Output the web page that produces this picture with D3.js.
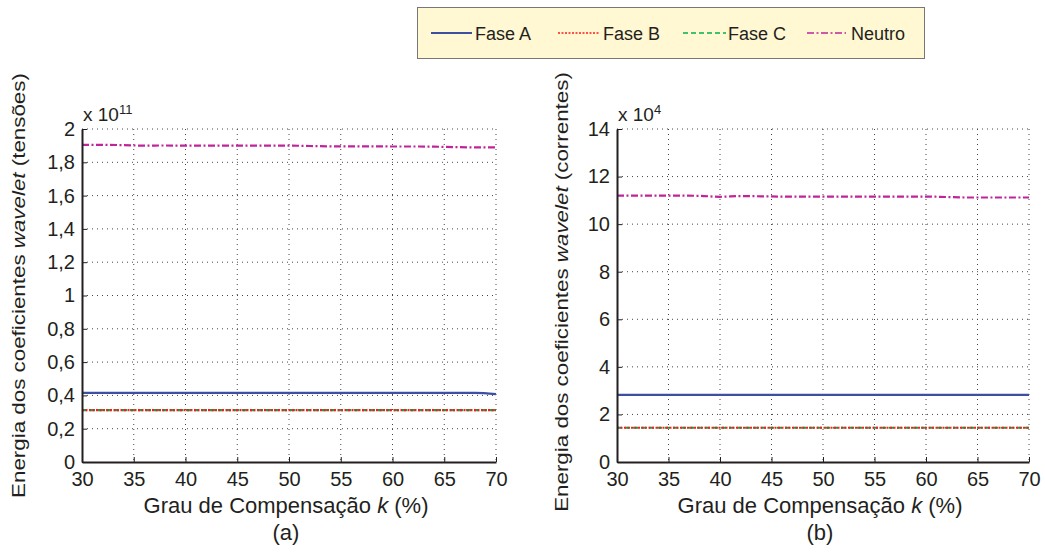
<!DOCTYPE html>
<html><head><meta charset="utf-8">
<script src="https://cdn.jsdelivr.net/npm/d3@7"></script>
<style>body{margin:0;background:#fff}svg{display:block}text{font-family:"Liberation Sans",Arial,sans-serif;fill:#231f20}</style>
</head><body>
<script>
const kValues = [30,32,34,36,38,40,42,44,46,48,50,52,54,56,58,60,62,64,66,68,70];
// (a) tensões, x 1e11
const tensNeutro = [1.905,1.905,1.903,1.900,1.901,1.900,1.900,1.900,1.900,1.900,1.900,1.898,1.896,1.896,1.896,1.895,1.895,1.894,1.891,1.890,1.890];
const tensFaseA = [0.415,0.415,0.415,0.415,0.415,0.415,0.415,0.415,0.415,0.415,0.415,0.415,0.415,0.415,0.415,0.415,0.415,0.415,0.415,0.415,0.408];
const tensFaseB = [0.312,0.312,0.312,0.312,0.312,0.312,0.312,0.312,0.312,0.312,0.312,0.312,0.312,0.312,0.312,0.312,0.312,0.312,0.312,0.312,0.312];
const tensFaseC = [0.312,0.312,0.312,0.312,0.312,0.312,0.312,0.312,0.312,0.312,0.312,0.312,0.312,0.312,0.312,0.312,0.312,0.312,0.312,0.312,0.312];
// (b) correntes, x 1e4
const corrNeutro = [11.20,11.20,11.20,11.20,11.19,11.15,11.18,11.17,11.16,11.16,11.16,11.16,11.16,11.16,11.16,11.16,11.14,11.12,11.12,11.12,11.12];
const corrFaseA = [2.82,2.82,2.82,2.82,2.82,2.82,2.82,2.82,2.82,2.82,2.82,2.82,2.82,2.82,2.82,2.82,2.82,2.82,2.82,2.82,2.82];
const corrFaseB = [1.44,1.44,1.44,1.44,1.44,1.44,1.44,1.44,1.44,1.44,1.44,1.44,1.44,1.44,1.44,1.44,1.44,1.44,1.44,1.44,1.44];
const corrFaseC = [1.44,1.44,1.44,1.44,1.44,1.44,1.44,1.44,1.44,1.44,1.44,1.44,1.44,1.44,1.44,1.44,1.44,1.44,1.44,1.44,1.44];

const xTicks = [30,35,40,45,50,55,60,65,70];
const yTicksA = [0,0.2,0.4,0.6,0.8,1,1.2,1.4,1.6,1.8,2];
const yTicksB = [0,2,4,6,8,10,12,14];
const seriesNames = ["Fase A","Fase B","Fase C","Neutro"];
const seriesColors = ["#3c4fa0","#ff1a1a","#00b04f","#c0249c"];
const seriesDash = [null,"2,1.5","5,3","7,2.5,2,2.5"];

const W=1045,H=554;
const svg=d3.select("body").append("svg").attr("width",W).attr("height",H);

function panel(opt){
  const x=d3.scaleLinear().domain([30,70]).range([opt.x0,opt.x1]);
  const y=d3.scaleLinear().domain(opt.ydom).range([opt.y1,opt.y0]);
  const g=svg.append("g");
  g.selectAll(".gx").data(xTicks.slice(1)).join("line")
    .attr("x1",d=>x(d)).attr("x2",d=>x(d)).attr("y1",opt.y0).attr("y2",opt.y1)
    .attr("stroke","#444").attr("stroke-width",1).attr("stroke-dasharray","1,4");
  g.selectAll(".gy").data(opt.yticks.slice(1)).join("line")
    .attr("x1",opt.x0).attr("x2",opt.x1).attr("y1",d=>y(d)).attr("y2",d=>y(d))
    .attr("stroke","#444").attr("stroke-width",1).attr("stroke-dasharray","1,4");
  const line=d3.line().x((d,i)=>x(kValues[i])).y(d=>y(d)).curve(d3.curveMonotoneX);
  [0,2,1,3].forEach(i=>{
    g.append("path").datum(opt.series[i]).attr("d",line).attr("fill","none")
      .attr("stroke",seriesColors[i]).attr("stroke-width",2.2)
      .attr("stroke-dasharray",seriesDash[i]);
  });
  const xa=g.append("g").attr("transform",`translate(0,${opt.y1})`)
    .call(d3.axisBottom(x).tickValues(xTicks).tickSizeInner(-5).tickSizeOuter(0).tickPadding(10));
  const ya=g.append("g").attr("transform",`translate(${opt.x0},0)`)
    .call(d3.axisLeft(y).tickValues(opt.yticks).tickFormat(opt.fmt).tickSizeInner(-5).tickSizeOuter(0).tickPadding(7));
  [xa,ya].forEach(a=>{
    a.select(".domain").attr("stroke","#231f20").attr("stroke-width",2);
    a.selectAll(".tick line").attr("stroke","#231f20").attr("stroke-width",1);
    a.selectAll("text").style("font-size","20px").attr("fill","#231f20");
  });
  xa.selectAll("text").attr("dy","0.71em");
  const ex=g.append("text").attr("x",opt.x0+1).attr("y",opt.y0-8).style("font-size","19px");
  ex.append("tspan").text("x 10");
  ex.append("tspan").attr("dy","-7").style("font-size","13px").text(opt.exp);
  // y label, stretched to the reference length
  const yl=g.append("text").attr("text-anchor","middle").style("font-size","19px");
  yl.append("tspan").text("Energia dos coeficientes ");
  yl.append("tspan").style("font-style","italic").text("wavelet");
  yl.append("tspan").text(" ("+opt.ylabel+")");
  const len=yl.node().getComputedTextLength();
  const sx=opt.ylen/len;
  yl.attr("transform",`translate(${opt.ylx},${opt.ylc}) rotate(-90) scale(${sx},1)`);
  const cx=(opt.x0+opt.x1)/2-3;
  const xl=g.append("text").attr("x",cx).attr("y",513).attr("text-anchor","middle").style("font-size","22px");
  xl.append("tspan").text("Grau de Compensação ");
  xl.append("tspan").style("font-style","italic").text("k");
  xl.append("tspan").text(" (%)");
  g.append("text").attr("x",cx).attr("y",540).attr("text-anchor","middle").style("font-size","22px").text(opt.tag);
}

const fmtA=d=>String(d).replace(".",",");
panel({x0:82,x1:496,y0:129,y1:462,ydom:[0,2],yticks:yTicksA,fmt:fmtA,exp:"11",
  series:[tensFaseA,tensFaseB,tensFaseC,tensNeutro],ylx:25,ylc:285.5,ylen:425,ylabel:"tensões",tag:"(a)"});
panel({x0:617,x1:1029,y0:129,y1:462,ydom:[0,14],yticks:yTicksB,fmt:d=>String(d),exp:"4",
  series:[corrFaseA,corrFaseB,corrFaseC,corrNeutro],ylx:568,ylc:292,ylen:440,ylabel:"correntes",tag:"(b)"});

const lg=svg.append("g");
lg.append("rect").attr("x",417.5).attr("y",7.5).attr("width",507).attr("height",51)
  .attr("fill","#fff8d2").attr("stroke","#777").attr("stroke-width",1);
const legX=[[431,472,475],[558,600,603],[683,726,728],[807,846,851]];
seriesNames.forEach((n,i)=>{
  lg.append("line").attr("x1",legX[i][0]).attr("x2",legX[i][1]).attr("y1",33).attr("y2",33)
    .attr("stroke",seriesColors[i]).attr("stroke-width",i===0?2:1.5).attr("stroke-dasharray",seriesDash[i]);
  lg.append("text").attr("x",legX[i][2]).attr("y",40).style("font-size","18px").text(n);
});
</script>
</body></html>
